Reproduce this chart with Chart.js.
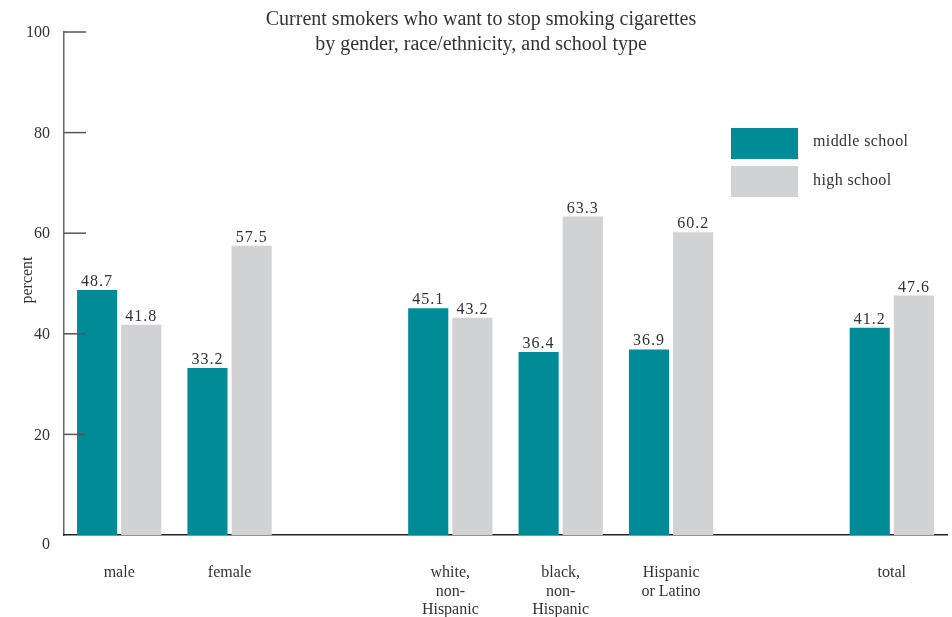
<!DOCTYPE html>
<html>
<head>
<meta charset="utf-8">
<script src="https://cdn.jsdelivr.net/npm/chart.js@4/dist/chart.umd.min.js"></script>
<style>
  html, body { margin: 0; padding: 0; background: #fff; }
  #wrap { width: 952px; height: 617px; position: relative; }
</style>
</head>
<body>
<div id="wrap"><canvas id="chart"></canvas></div>
<script>
// categories (empty slots make the gaps between groups)
const categories = [
    ['male'], ['female'], [''],
    ['white,', 'non-', 'Hispanic'], ['black,', 'non-', 'Hispanic'], ['Hispanic', 'or Latino'], [''],
    ['total']
];
const middleSchool = [48.7, 33.2, null, 45.1, 36.4, 36.9, null, 41.2];
const highSchool = [41.8, 57.5, null, 43.2, 63.3, 60.2, null, 47.6];
const yTicks = [0, 20, 40, 60, 80, 100];
const titleLines = ['Current smokers who want to stop smoking cigarettes', 'by gender, race/ethnicity, and school type'];
const seriesNames = ['middle school', 'high school'];

const TEAL = '#008b96';
const GRAY = '#d1d2d4';
const TEXT = '#333333';
const SERIF = '"Liberation Serif", "DejaVu Serif", serif';

// Draw title, y ticks, value labels and legend by hand
const decorations = {
    id: 'decorations',
    afterDraw(chart) {
        const ctx = chart.ctx;
        const y = chart.scales.y;
        const area = chart.chartArea;
        ctx.save();
        ctx.fillStyle = TEXT;

        // title
        ctx.font = '20px ' + SERIF;
        ctx.textAlign = 'center';
        ctx.textBaseline = 'middle';
        titleLines.forEach((line, i) => ctx.fillText(line, 481, 20 + i * 25));

        // y ticks and labels
        ctx.strokeStyle = '#555';
        ctx.lineWidth = 1.5;
        ctx.font = '16px ' + SERIF;
        ctx.textAlign = 'right';
        yTicks.forEach(v => {
            const py = y.getPixelForValue(v);
            if (v > 0) {
                ctx.beginPath();
                ctx.moveTo(area.left, py);
                ctx.lineTo(area.left + 22, py);
                ctx.stroke();
            }
            ctx.fillText(String(v), 50, v === 0 ? py + 10 : py + 1);
        });

        // y axis title
        ctx.save();
        ctx.translate(28, 280);
        ctx.rotate(-Math.PI / 2);
        ctx.textAlign = 'center';
        ctx.fillText('percent', 0, 0);
        ctx.restore();

        // value labels
        ctx.textAlign = 'center';
        ctx.textBaseline = 'alphabetic';
        ctx.letterSpacing = '1px';
        chart.data.datasets.forEach((ds, di) => {
            chart.getDatasetMeta(di).data.forEach((bar, i) => {
                const v = ds.data[i];
                if (v === null) return;
                ctx.fillText(v.toFixed(1), bar.x, bar.y - 4);
            });
        });

        // legend
        const colors = [TEAL, GRAY];
        ctx.letterSpacing = '0.4px';
        ctx.textAlign = 'left';
        ctx.textBaseline = 'middle';
        seriesNames.forEach((name, i) => {
            ctx.fillStyle = colors[i];
            ctx.fillRect(731, 128 + i * 38, 67, 31);
            ctx.fillStyle = TEXT;
            ctx.fillText(name, 813, 142 + i * 39);
        });
        ctx.restore();
    }
};

new Chart(document.getElementById('chart'), {
    type: 'bar',
    data: {
        labels: categories,
        datasets: [
            { label: seriesNames[0], data: middleSchool, backgroundColor: TEAL },
            { label: seriesNames[1], data: highSchool, backgroundColor: GRAY }
        ]
    },
    options: {
        responsive: true,
        maintainAspectRatio: false,
        animation: false,
        categoryPercentage: 0.8,
        barPercentage: 0.909,
        layout: { padding: { top: 32, right: 5, left: 0, bottom: 0 } },
        plugins: {
            legend: { display: false },
            title: { display: false },
            tooltip: { enabled: false }
        },
        scales: {
            y: {
                min: 0,
                max: 100,
                ticks: { display: false, stepSize: 20 },
                grid: { display: false },
                border: { display: true, color: '#666', width: 1.5 },
                afterFit: (scale) => { scale.width = 64; }
            },
            x: {
                grid: { display: false },
                border: { display: true, color: '#222', width: 1.5 },
                ticks: {
                    color: TEXT,
                    font: { family: SERIF, size: 16, lineHeight: 1.15 },
                    padding: 21,
                    maxRotation: 0,
                    autoSkip: false
                },
                afterFit: (scale) => { scale.height = 82; }
            }
        }
    },
    plugins: [decorations]
});
</script>
</body>
</html>
